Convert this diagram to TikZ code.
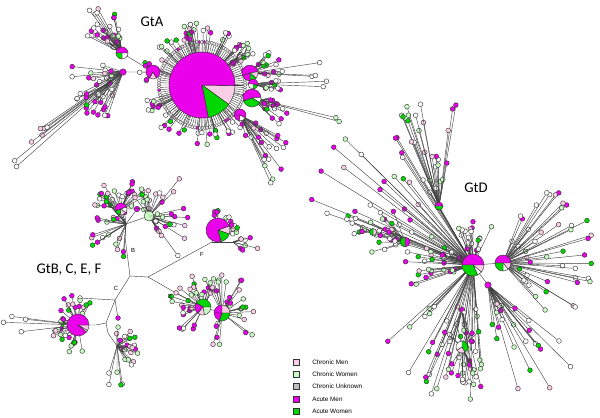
\documentclass[tikz,border=0pt]{standalone}
\usepackage{fontspec}
\setmainfont{Carlito}
\newfontfamily\keyfont{Liberation Sans}
\usetikzlibrary{calc}

\definecolor{cmag}{RGB}{235,0,235}
\definecolor{cgreen}{RGB}{0,215,0}
\definecolor{cpink}{RGB}{250,205,230}
\definecolor{cgreenl}{RGB}{200,250,195}
\definecolor{cgray}{RGB}{190,190,190}

\tikzset{
  spoke/.style={draw=black!75, line width=0.3pt},
  leaf/.style={circle, draw=black!80, line width=0.3pt, inner sep=0pt, minimum size=3.4pt},
  tick/.style={circle, draw=black!70, line width=0.25pt, inner sep=0pt, minimum size=2.6pt},
  hub/.style={circle, draw=black!80, line width=0.3pt, inner sep=0pt, minimum size=4.6pt, fill=cmag},
  grp/.style={font=\fontsize{10.5}{11}\selectfont},
  brn/.style={font=\keyfont\fontsize{4.2}{5}\selectfont, inner sep=0pt},
  key/.style={draw=black!80, line width=0.35pt, minimum size=4.2pt, inner sep=0pt},
  keytxt/.style={font=\keyfont\fontsize{4.5}{5}\selectfont, anchor=west, inner sep=0pt},
}

\pgfmathdeclarerandomlist{mixA}{{white}{white}{white}{cmag}{cmag}{cmag}{cpink}{cgreenl}{cgreen}}
\pgfmathdeclarerandomlist{mixD}{{white}{white}{white}{cmag}{cmag}{cpink}{cgreenl}{cgreenl}{cgreen}}
\pgfmathdeclarerandomlist{mixB}{{white}{cgreenl}{cgreenl}{cpink}{cpink}{cmag}{cmag}{cgreen}}
\pgfmathdeclarerandomlist{mixW}{{white}{white}{white}{cgreenl}{cpink}}
\pgfmathdeclarerandomlist{ringA}{{white}{white}{white}{white}{white}{cpink}{cmag}}

% leaves thrown out of a hub: hub, prefix, count, angles, lengths, colours
\newcommand\spray[8]{%
  \foreach \k in {1,...,#3}{
    \pgfmathsetmacro\ang{#4+rnd*((#5)-(#4))}
    \pgfmathsetmacro\len{#6+rnd*((#7)-(#6))}
    \pgfmathrandomitem\col{#8}
    \node[leaf, fill=\col] (#2-\k) at ($(#1)+(\ang:\len)$) {};
    \draw[spoke] (#1) -- (#2-\k);
  }}

% pie chart: centre, radius, start/end/colour
\newcommand\piechart[3]{%
  \foreach \a/\b/\c in {#3}{
    \filldraw[fill=\c, draw=black!80, line width=0.3pt]
      (#1) -- ($(#1)+(\a:#2)$) arc[start angle=\a, end angle=\b, radius=#2] -- cycle;
  }}

\begin{document}
\begin{tikzpicture}[x=0.025cm, y=-0.025cm]
\useasboundingbox (0,0) rectangle (600,417);
\pgfmathsetseed{4242}

% ---------- GtA ----------
\coordinate (gtA) at (202,85);
\coordinate (gtA1) at (153,72);
\node[hub] (gtA2) at (123,72) {};
\coordinate (gtA3) at (122,53);
\node[hub, minimum size=3.6pt] (gtA4) at (110,83) {};
\coordinate (gtA5) at (250,73);
\coordinate (gtA6) at (253,84);
\coordinate (gtA7) at (252,98);
\coordinate (gtA8) at (240,115);
\node[hub] (gtA9) at (233,63) {};
\draw[spoke] (gtA) -- (gtA1) -- (gtA2) -- (gtA4);
\draw[spoke] (gtA1) -- (gtA3);
\foreach \h in {gtA5,gtA6,gtA7,gtA8,gtA9} { \draw[spoke] (gtA) -- (\h); }

% comb round the big pie
\foreach \k in {0,...,107} {
  \pgfmathrandomitem\col{ringA}
  \node[tick, fill=\col] (ringA-\k) at ($(gtA)+(\k*3.333:43)$) {};
  \draw[spoke] (gtA) -- (ringA-\k);
}
\spray{gtA}{topA}{35}{-165}{-25}{47}{58}{mixA}
\spray{gtA}{upA}{4}{-112}{-95}{56}{62}{mixW}
\spray{gtA}{botA}{30}{40}{165}{47}{60}{mixA}
\spray{gtA8}{lrA}{22}{25}{75}{15}{75}{mixA}
\spray{gtA5}{rA5}{14}{-50}{10}{10}{35}{mixA}
\spray{gtA5}{rA5l}{3}{-15}{5}{60}{80}{mixW}
\spray{gtA6}{rA6}{10}{-15}{20}{10}{30}{mixA}
\spray{gtA6}{rA6l}{2}{-3}{3}{70}{80}{mixW}
\spray{gtA7}{rA7}{18}{5}{45}{12}{40}{mixA}
\spray{gtA7}{rA7l}{2}{12}{16}{85}{95}{mixW}
\spray{gtA9}{rA9}{8}{-60}{-10}{8}{25}{mixA}
\spray{gtA3}{lA3}{28}{-155}{-95}{8}{40}{mixA}
\spray{gtA3}{lA3l}{4}{-128}{-118}{45}{60}{mixW}
\spray{gtA2}{lA2}{25}{100}{200}{10}{55}{mixA}
\spray{gtA2}{lA2l}{7}{138}{150}{90}{145}{mixW}
\spray{gtA4}{lA4}{12}{100}{160}{10}{40}{mixA}
\spray{gtA1}{lA1}{6}{100}{250}{9}{14}{mixA}

% ---------- GtD ----------
\coordinate (gtD) at (473,265);
\coordinate (gtD1) at (503,263);
\coordinate (gtD2) at (405,242);
\coordinate (gtD3) at (373,232);
\node[hub] (gtD4) at (488,285) {};
\coordinate (gtD5) at (462,347);
\coordinate (gtD6) at (439,206);
\node[hub, minimum size=4pt] (gtD7) at (462,310) {};
\draw[spoke] (gtD) -- (gtD1);
\draw[spoke] (gtD) -- (gtD2) -- (gtD3);
\draw[spoke] (gtD) -- (gtD4);
\draw[spoke] (gtD) -- (gtD7) -- (gtD5);
\draw[spoke] (gtD) -- (gtD6);

\spray{gtD}{ulD}{30}{-165}{-120}{70}{185}{mixD}
\spray{gtD}{lD}{35}{160}{215}{15}{70}{mixD}
\spray{gtD}{uD}{20}{-115}{-60}{15}{45}{mixD}
\spray{gtD}{dD}{30}{85}{140}{30}{140}{mixD}
\spray{gtD1}{rD}{45}{-70}{50}{15}{95}{mixD}
\spray{gtD4}{drD}{25}{35}{85}{20}{120}{mixD}
\spray{gtD2}{lD2}{15}{150}{220}{8}{40}{mixD}
\spray{gtD2}{uD2}{8}{-150}{-110}{10}{40}{mixD}
\spray{gtD3}{lD3}{8}{170}{230}{8}{30}{mixD}
\spray{gtD6}{uD6}{25}{-118}{-78}{15}{105}{mixD}
\spray{gtD5}{dD5}{15}{60}{130}{8}{40}{mixD}
\spray{gtD5}{uD5}{8}{-150}{-30}{8}{25}{mixD}
\spray{gtD7}{dD7}{12}{70}{130}{20}{90}{mixD}

% ---------- GtB, C, E, F ----------
\coordinate (r1) at (130,276);
\coordinate (r2) at (148,277);
\coordinate (bj) at (125,237);
\coordinate (bh) at (126,224);
\coordinate (bp1) at (121,209);
\coordinate (bp2) at (149,216);
\node[hub, minimum size=4pt] (bp3) at (137,209) {};
\coordinate (fj) at (212,242);
\coordinate (fp) at (218,230);
\coordinate (fk) at (233,242);
\coordinate (ej) at (183,297);
\coordinate (ep1) at (203,307);
\coordinate (ep2) at (222,313);
\coordinate (cj1) at (115,300);
\coordinate (cj2) at (106,323);
\coordinate (cj3) at (96,325);
\coordinate (cp) at (78,325);
\coordinate (cj4) at (108,333);
\coordinate (ch) at (117,346);
\node[leaf, fill=white] (cl1) at (80,298) {};
\node[leaf, fill=cmag] (cl2) at (118,318) {};

\draw[spoke] (bh) -- (bj) -- (r1) -- (r2) -- (fj) -- (fp);
\draw[spoke] (fj) -- (fk);
\draw[spoke] (r2) -- (ej) -- (ep1) -- (ep2);
\draw[spoke] (r1) -- (cj1) -- (cj2) -- (cj3) -- (cp);
\draw[spoke] (cj1) -- (cl1);
\draw[spoke] (cj1) -- (cl2);
\draw[spoke] (cj2) -- (cj4) -- (ch);
\draw[spoke] (bh) -- (bp1);
\draw[spoke] (bh) -- (bp2);
\draw[spoke] (bh) -- (bp3);

\spray{bp1}{b1}{25}{-180}{0}{8}{30}{mixB}
\spray{bh}{bhl}{25}{90}{270}{10}{40}{mixB}
\spray{bp2}{b2}{25}{-60}{60}{8}{50}{mixB}
\spray{bp2}{b2u}{10}{-130}{-60}{8}{30}{mixB}
\spray{fp}{fl}{16}{-110}{30}{14}{20}{mixA}
\spray{fk}{fkl}{8}{-40}{40}{6}{28}{mixB}
\spray{ep1}{e1}{30}{100}{300}{10}{35}{mixB}
\spray{ep2}{e2}{30}{-120}{120}{10}{40}{mixB}
\spray{cp}{cpl}{35}{80}{300}{12}{30}{mixB}
\spray{cp}{cpll}{4}{165}{195}{40}{75}{mixW}
\spray{ch}{chl}{22}{-100}{60}{6}{25}{mixB}
\spray{ch}{chd}{5}{80}{110}{25}{45}{mixB}

% ---------- pies on top ----------
\piechart{gtA}{33}{1/36/cpink, 36/79/cgreen, 79/361/cmag}
\piechart{gtA1}{7}{60/120/cpink, 120/420/cmag}
\piechart{gtA3}{6}{-180/0/cmag, 0/90/white, 90/180/cgreen}
\piechart{gtA5}{8}{-200/-10/cmag, -10/40/cpink, 40/90/cgreen, 90/160/cmag}
\piechart{gtA6}{5}{-180/20/cmag, 20/90/cgreen, 90/180/white}
\piechart{gtA7}{9}{-200/-5/cmag, -5/30/white, 30/160/cgreen}
\piechart{gtA8}{6}{-180/30/cmag, 30/100/white, 100/180/cmag}
\piechart{gtD}{11}{180/360/cmag, 0/40/cpink, 40/65/white, 65/180/cgreen}
\piechart{gtD1}{8}{180/360/cmag, 0/50/cpink, 50/90/white, 90/180/cgreen}
\piechart{gtD2}{5}{-90/90/cmag, 90/270/cgreen}
\piechart{gtD3}{3.5}{-90/90/cpink, 90/270/cgreen}
\piechart{gtD5}{6}{-90/60/cgreen, 60/150/cpink, 150/270/white}
\piechart{gtD6}{4}{-180/0/cmag, 0/180/cgreen}
\piechart{bp1}{6}{-200/-20/cmag, -20/40/white, 40/100/cpink, 100/160/cgreen}
\piechart{bp2}{5}{0/360/cgreenl}
\piechart{fp}{12}{-20/20/cpink, 20/75/cgreen, 75/340/cmag}
\piechart{ep1}{8}{-150/0/cgreen, 0/80/cgreenl, 80/130/cpink, 130/210/cmag}
\piechart{ep2}{8}{-180/-90/cmag, -90/0/cpink, 0/110/cgreen, 110/180/cmag}
\piechart{cp}{11}{0/30/cpink, 30/40/white, 40/360/cmag}

% ---------- labels ----------
\node[grp] (labA) at (152,22) {GtA};
\node[grp] (labD) at (476,188) {GtD};
\node[grp] (labB) at (69,270) {GtB, C, E, F};
\node[brn] (brB) at (133,250) {B};
\node[brn] (brC) at (116,288) {C};
\node[brn] (brE) at (170,296) {E};
\node[brn] (brF) at (202,254) {F};

% ---------- legend ----------
\foreach \i/\c/\txt in {0/cpink/Chronic Men, 1/cgreenl/Chronic Women,
    2/cgray/Chronic Unknown, 3/cmag/Acute Men, 4/cgreen/Acute Women} {
  \node[key, fill=\c] (key\i) at (296,362+\i*12.3) {};
  \node[keytxt] (lab\i) at (312,362+\i*12.3) {\txt};
}
\end{tikzpicture}
\end{document}
